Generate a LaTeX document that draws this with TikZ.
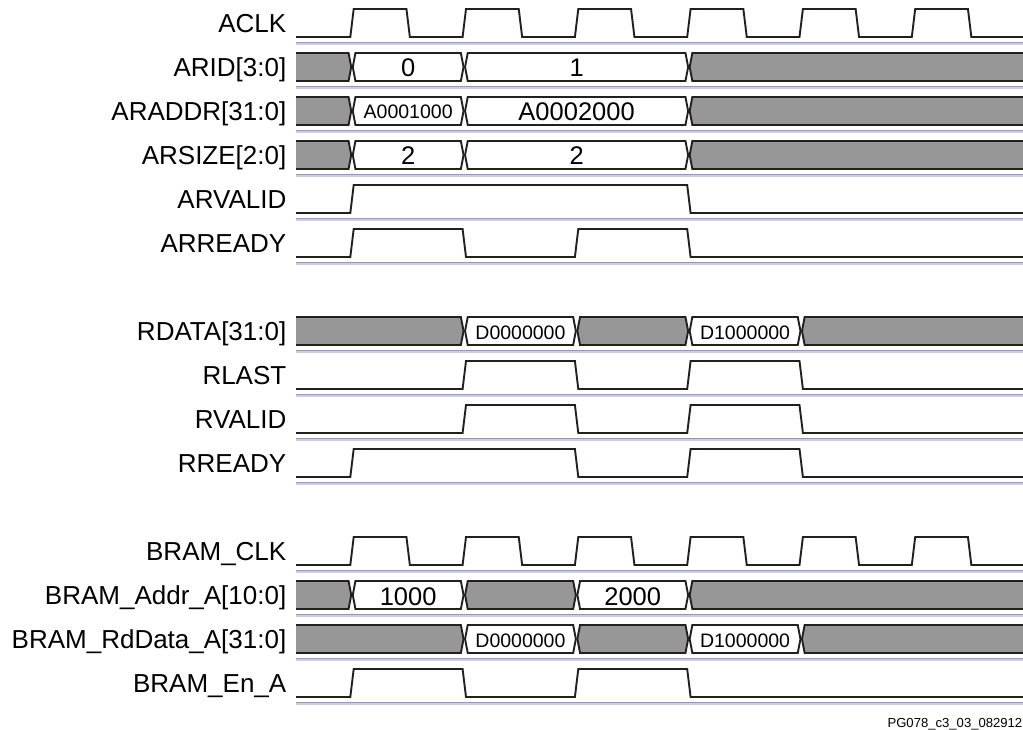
\documentclass[tikz,border=0pt]{standalone}
\usepackage{fontspec}
\setmainfont{Liberation Sans}
\definecolor{wire}{RGB}{35,31,32}
\definecolor{busgray}{RGB}{151,151,151}
\definecolor{sepA}{RGB}{150,150,182}
\definecolor{sepB}{RGB}{205,205,222}
\tikzset{
 sig/.style={draw=wire, line width=1.9pt, line join=miter},
 bus/.style={draw=wire, line width=1.9pt},
 grayseg/.style={fill=busgray},
 whiteseg/.style={fill=white},
 lbl/.style={anchor=base east, inner sep=0pt, font=\fontsize{26}{30}\selectfont},
 bigval/.style={anchor=base, inner sep=0pt, font=\fontsize{25.5}{30}\selectfont},
 smallval/.style={anchor=base, inner sep=0pt, font=\fontsize{19.5}{24}\selectfont},
 footer/.style={anchor=base east, inner sep=0pt, font=\fontsize{13.1}{15}\selectfont},
 rup/.style={insert path={-- ({#1-1.7},\ylo) -- ({#1+1.7},\yhi)}},
 rdn/.style={insert path={-- ({#1-1.7},\yhi) -- ({#1+1.7},\ylo)}},
}
\newcommand\setrow[1]{\pgfmathsetmacro\ylo{#1-6}\pgfmathsetmacro\yhi{#1-34}\pgfmathsetmacro\ymid{#1-20}}
\newcommand\sepline[1]{\draw[sepA,line width=1.4pt] (296,#1-0.3) -- (1023,#1-0.3);
 \draw[sepB,line width=1.2pt] (296,#1+1) -- (1023,#1+1);}
\newcommand\bseg[3]{\draw[bus,#3] ({#1+3.45},\yhi) -- ({#1+0.75},\ymid) -- ({#1+3.45},\ylo) -- ({#2-3.45},\ylo) -- ({#2-0.75},\ymid) -- ({#2-3.45},\yhi) -- cycle;}
\newcommand\bfirst[1]{\fill[busgray] (296,\yhi) -- ({#1-3.45},\yhi) -- ({#1-0.75},\ymid) -- ({#1-3.45},\ylo) -- (296,\ylo) -- cycle;
 \draw[bus] (296,\yhi) -- ({#1-3.45},\yhi) -- ({#1-0.75},\ymid) -- ({#1-3.45},\ylo) -- (296,\ylo);}
\newcommand\blast[1]{\fill[busgray] (1023,\yhi) -- ({#1+3.45},\yhi) -- ({#1+0.75},\ymid) -- ({#1+3.45},\ylo) -- (1023,\ylo) -- cycle;
 \draw[bus] (1023,\yhi) -- ({#1+3.45},\yhi) -- ({#1+0.75},\ymid) -- ({#1+3.45},\ylo) -- (1023,\ylo);}
\begin{document}
\begin{tikzpicture}[x=1pt,y=-1pt]
\useasboundingbox[fill=white] (0,0) rectangle (1023,730);
% separators
\foreach \s in {43,87,131,175,219,263,351,395,439,483,571,615,659,703}{\sepline{\s}}
% ACLK
\setrow{43}
\draw[sig] (296,\ylo) [rup=352] [rdn=408.15] [rup=464.3] [rdn=520.45] [rup=576.6] [rdn=632.75] [rup=688.9] [rdn=745.05] [rup=801.2] [rdn=857.35] [rup=913.5] [rdn=969.65] -- (1023,\ylo);
% ARID
\setrow{87}
\bfirst{352} \bseg{352}{464.3}{whiteseg} \bseg{464.3}{688.9}{whiteseg} \blast{688.9}
% ARADDR
\setrow{131}
\bfirst{352} \bseg{352}{464.3}{whiteseg} \bseg{464.3}{688.9}{whiteseg} \blast{688.9}
% ARSIZE
\setrow{175}
\bfirst{352} \bseg{352}{464.3}{whiteseg} \bseg{464.3}{688.9}{whiteseg} \blast{688.9}
% ARVALID
\setrow{219}
\draw[sig] (296,\ylo) [rup=352] [rdn=688.9] -- (1023,\ylo);
% ARREADY
\setrow{263}
\draw[sig] (296,\ylo) [rup=352] [rdn=464.3] [rup=576.6] [rdn=688.9] -- (1023,\ylo);
% RDATA
\setrow{351}
\bfirst{464.3} \bseg{464.3}{576.6}{whiteseg} \bseg{576.6}{688.9}{grayseg} \bseg{688.9}{801.2}{whiteseg} \blast{801.2}
% RLAST
\setrow{395}
\draw[sig] (296,\ylo) [rup=464.3] [rdn=576.6] [rup=688.9] [rdn=801.2] -- (1023,\ylo);
% RVALID
\setrow{439}
\draw[sig] (296,\ylo) [rup=464.3] [rdn=576.6] [rup=688.9] [rdn=801.2] -- (1023,\ylo);
% RREADY
\setrow{483}
\draw[sig] (296,\ylo) [rup=352] [rdn=576.6] [rup=688.9] [rdn=801.2] -- (1023,\ylo);
% BRAM_CLK
\setrow{571}
\draw[sig] (296,\ylo) [rup=352] [rdn=408.15] [rup=464.3] [rdn=520.45] [rup=576.6] [rdn=632.75] [rup=688.9] [rdn=745.05] [rup=801.2] [rdn=857.35] [rup=913.5] [rdn=969.65] -- (1023,\ylo);
% BRAM_Addr_A
\setrow{615}
\bfirst{352} \bseg{352}{464.3}{whiteseg} \bseg{464.3}{576.6}{grayseg} \bseg{576.6}{688.9}{whiteseg} \blast{688.9}
% BRAM_RdData_A
\setrow{659}
\bfirst{464.3} \bseg{464.3}{576.6}{whiteseg} \bseg{576.6}{688.9}{grayseg} \bseg{688.9}{801.2}{whiteseg} \blast{801.2}
% BRAM_En_A
\setrow{703}
\draw[sig] (296,\ylo) [rup=352] [rdn=464.3] [rup=576.6] [rdn=688.9] -- (1023,\ylo);
% labels
\node[lbl] (l1) at (286.5,32.5) {ACLK};
\node[lbl] (l2) at (286.5,76.5) {ARID[3:0]};
\node[lbl] (l3) at (286.5,120.5) {ARADDR[31:0]};
\node[lbl] (l4) at (286.5,164.5) {ARSIZE[2:0]};
\node[lbl] (l5) at (286.5,208.5) {ARVALID};
\node[lbl] (l6) at (286.5,252.5) {ARREADY};
\node[lbl] (l7) at (286.5,340.5) {RDATA[31:0]};
\node[lbl] (l8) at (286.5,384.5) {RLAST};
\node[lbl] (l9) at (286.5,428.5) {RVALID};
\node[lbl] (l10) at (286.5,472.5) {RREADY};
\node[lbl] (l11) at (286.5,560.5) {BRAM\_CLK};
\node[lbl] (l12) at (286.5,604.5) {BRAM\_Addr\_A[10:0]};
\node[lbl] (l13) at (286.5,648.5) {BRAM\_RdData\_A[31:0]};
\node[lbl] (l14) at (286.5,692.5) {BRAM\_En\_A};
% values
\node[bigval] (v1) at (408.15,77) {0};
\node[bigval] (v2) at (576.6,77) {1};
\node[smallval] (v3) at (408.15,119) {A0001000};
\node[bigval] (v4) at (576.6,121) {A0002000};
\node[bigval] (v5) at (408.15,165) {2};
\node[bigval] (v6) at (576.6,165) {2};
\node[smallval] (v7) at (520.45,339) {D0000000};
\node[smallval] (v8) at (745.05,339) {D1000000};
\node[bigval] (v9) at (408.15,605) {1000};
\node[bigval] (v10) at (632.75,605) {2000};
\node[smallval] (v11) at (520.45,647) {D0000000};
\node[smallval] (v12) at (745.05,647) {D1000000};
\node[footer] (ft) at (1022.5,727) {PG078\_c3\_03\_082912};
\end{tikzpicture}
\end{document}
